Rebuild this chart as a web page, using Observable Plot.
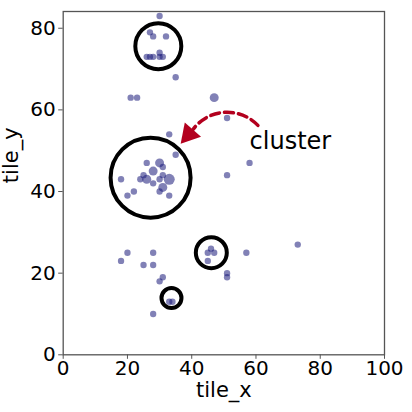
<!DOCTYPE html>
<html>
<head>
<meta charset="utf-8">
<script src="https://cdn.jsdelivr.net/npm/d3@7"></script>
<script src="https://cdn.jsdelivr.net/npm/@observablehq/plot@0.6"></script>
<style>
  html, body { margin: 0; padding: 0; background: #fff; }
  #chart { width: 412px; height: 412px; }
</style>
</head>
<body>
<div id="chart"></div>
<script>
// ---- data ----
const tileX = [30, 27, 28, 32, 26, 27, 28, 30, 30, 31, 35, 21, 23, 47, 51,
  33, 35, 58, 51,
  18, 26, 30, 31, 28, 25, 24, 26, 28, 30, 31, 33, 31, 30, 22, 20, 33,
  20, 18, 28, 25, 28, 31, 30, 33, 34, 28, 46, 45, 47, 45, 57, 51, 51, 73];
const tileY = [83, 79, 78, 78, 73, 73, 73, 74, 73, 73, 68, 63, 63, 63, 58,
  54, 49, 47, 44,
  43, 47, 47, 46, 45, 44, 43, 43, 42, 43, 44, 43, 41, 40, 40, 39, 39,
  25, 23, 25, 22, 22, 19, 18, 13, 13, 10, 26, 25, 25, 23, 25, 20, 19, 27];
const counts = [1, 1, 1, 1, 1, 1, 1, 1, 1, 1, 1, 1, 1, 2, 1,
  1, 1, 1, 1,
  1, 1, 2, 1, 2, 1, 1, 2, 1, 1, 1, 3, 2, 1, 1, 1, 1,
  1, 1, 1, 1, 1, 1, 1, 1, 1, 1, 1, 1, 1, 1, 1, 1, 1, 1];

// annotation circles (centre in data units, radius in px)
const circleX = [29.6, 27.2, 46.1, 33.7];
const circleY = [75.6, 43.4, 25.0, 13.9];
const circleR = [23, 40, 15.5, 10];

// annotation arrow + label
const arrowFrom = {x: 60.6, y: 56.2};
const arrowTo = {x: 40.4, y: 55.2};
const headAt = {x: 39.1, y: 54.0};
const labelText = "cluster";
const labelAt = {x: 58.0, y: 52.4};

const xTicks = [0, 20, 40, 60, 80, 100];
const yTicks = [0, 20, 40, 60, 80];

const points = tileX.map((x, i) => ({x, y: tileY[i], n: counts[i]}));
const circles = circleX.map((x, i) => ({x, y: circleY[i], r: circleR[i]}));

const red = "#b3001e";
const font = "DejaVu Sans";

const chart = Plot.plot({
  width: 412,
  height: 412,
  marginLeft: 62.7,
  marginRight: 28,
  marginTop: 11,
  marginBottom: 57.7,
  style: {fontFamily: font, fontSize: "20px", color: "#000", background: "#fff"},
  x: {domain: [0, 100]},
  y: {domain: [0, 84.1]},
  r: {type: "sqrt", domain: [0, 3], range: [0, 5.5]},
  marks: [
    Plot.axisX({ticks: xTicks, tickSize: 4.5, tickPadding: 1, fontSize: 20, stroke: "#555", label: null}),
    Plot.axisY({ticks: yTicks, tickSize: 4.5, tickPadding: 3, fontSize: 20, stroke: "#555", label: null}),
    Plot.text(["tile_x"], {frameAnchor: "bottom", dy: 42, fontSize: 21, text: d => d, lineAnchor: "bottom", fill: "#000"}),
    Plot.text(["tile_y"], {frameAnchor: "left", dx: -45, fontSize: 21, rotate: -90, text: d => d, lineAnchor: "bottom", fill: "#000"}),
    Plot.frame({stroke: "#555", strokeWidth: 1.3}),
    Plot.dot(points, {x: "x", y: "y", r: "n", fill: "#1a1a7a", fillOpacity: 0.55, stroke: null}),
    ...circles.map(c => Plot.dot([c], {x: "x", y: "y", r: c.r, stroke: "#000", strokeWidth: 4, fill: "none"})),
    Plot.arrow([{a: arrowFrom, b: arrowTo}], {
      x1: d => d.a.x, y1: d => d.a.y, x2: d => d.b.x, y2: d => d.b.y,
      bend: -50, headLength: 0, stroke: red, strokeWidth: 3.5, strokeDasharray: "9,5"
    }),
    Plot.dot([headAt], {x: "x", y: "y", symbol: "triangle", r: 8, rotate: 221, fill: red, stroke: null}),
    Plot.text([labelAt], {x: "x", y: "y", text: () => labelText, textAnchor: "start", fontSize: 24, fill: "#000"})
  ]
});
document.getElementById("chart").appendChild(chart);
</script>
</body>
</html>
